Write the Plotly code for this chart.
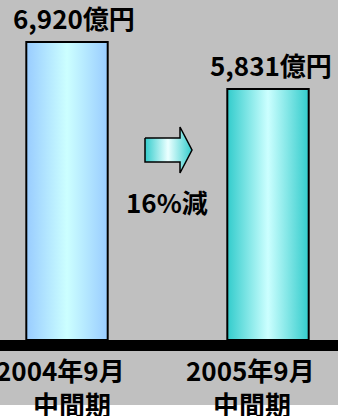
import plotly.graph_objects as go

# Interim sales, 100 million yen
periods = ["2004年9月", "2005年9月"]
period_suffix = ["中間期", "中間期"]
values = [6920, 5831]
value_labels = ["6,920億円", "5,831億円"]
change_label = "16%減"

W, H = 338, 416
BOTTOM_WHITE = 11          # white strip under the plot area
PLOT_H = H - BOTTOM_WHITE  # plot area height in px
BASE_PX = 340              # baseline pixel row (from top)
K = 298 / 6920             # px per unit on y
Y_TOP = BASE_PX / K
Y_BOT = -(PLOT_H - BASE_PX) / K
X_PX0, X_STEP = 67, 201    # centre of first bar, px per category
X_MIN = -X_PX0 / X_STEP
X_MAX = (W - X_PX0) / X_STEP
BAR_W = 0.405

FONT = "Noto Sans CJK JP"
bar_scales = [
    [[0, "#99CCFF"], [0.5, "#CCFFFF"], [1, "#99CCFF"]],
    [[0, "#33CCCC"], [0.5, "#CCFFFF"], [1, "#33CCCC"]],
]


def px_to_x(px):
    return (px - X_PX0) / X_STEP


def px_to_y(py):
    return (BASE_PX - py) / K


fig = go.Figure()

# Bars as gradient-filled rectangles
for i, v in enumerate(values):
    x0, x1 = i - BAR_W / 2, i + BAR_W / 2
    fig.add_trace(go.Scatter(
        x=[x0, x0, x1, x1, x0], y=[0, v, v, 0, 0],
        mode="lines", fill="toself",
        line=dict(color="black", width=2),
        fillgradient=dict(type="horizontal", colorscale=bar_scales[i],
                          start=x0, stop=x1),
        hoverinfo="skip", showlegend=False,
    ))

# Block arrow between the two bars
ax_px = [145, 180, 180, 192, 180, 180, 145, 145]
ay_px = [138, 138, 127, 150, 173, 162, 162, 138]
fig.add_trace(go.Scatter(
    x=[px_to_x(p) for p in ax_px], y=[px_to_y(p) for p in ay_px],
    mode="lines", fill="toself",
    line=dict(color="black", width=1.5),
    fillgradient=dict(type="horizontal",
                      colorscale=[[0, "#33CCCC"], [0.48, "#E8FFFF"],
                                  [0.49, "#9AAFAF"], [0.5, "#E8FFFF"],
                                  [1, "#33CCCC"]],
                      start=px_to_x(145), stop=px_to_x(192)),
    hoverinfo="skip", showlegend=False,
))

# Thick black baseline
fig.add_shape(type="rect", xref="paper", yref="y", x0=0, x1=1,
              y0=0, y1=px_to_y(351), fillcolor="black", line_width=0,
              layer="above")

annotations = []
label_dx = [7, 3]
for i, v in enumerate(values):
    annotations.append(dict(
        x=i, y=v, xref="x", yref="y", text=value_labels[i],
        showarrow=False, yanchor="bottom", yshift=4, xshift=label_dx[i],
        font=dict(family=FONT, size=26, color="black", weight="bold"),
    ))

row1_dx = [-7, -18]
row2_dx = [5, -16]
for i in range(len(periods)):
    annotations.append(dict(
        x=i, y=(PLOT_H - 369) / PLOT_H, xref="x", yref="paper",
        text=periods[i], showarrow=False, xshift=row1_dx[i],
        xanchor="center", yanchor="middle",
        font=dict(family=FONT, size=26, color="black", weight="bold"),
    ))
    annotations.append(dict(
        x=i, y=(PLOT_H - 403) / PLOT_H, xref="x", yref="paper",
        text=period_suffix[i], showarrow=False, xshift=row2_dx[i],
        xanchor="center", yanchor="middle",
        font=dict(family=FONT, size=26, color="black", weight="bold"),
    ))

annotations.append(dict(
    x=px_to_x(167), y=px_to_y(201), xref="x", yref="y", text=change_label,
    showarrow=False, xanchor="center", yanchor="middle",
    font=dict(family=FONT, size=26, color="black", weight="bold"),
))

fig.update_layout(
    width=W, height=H,
    margin=dict(l=0, r=0, t=0, b=BOTTOM_WHITE, pad=0),
    paper_bgcolor="white", plot_bgcolor="#C0C0C0",
    xaxis=dict(range=[X_MIN, X_MAX], visible=False, fixedrange=True),
    yaxis=dict(range=[Y_BOT, Y_TOP], visible=False, fixedrange=True),
    annotations=annotations,
    showlegend=False,
)

fig.write_html("out.html")
